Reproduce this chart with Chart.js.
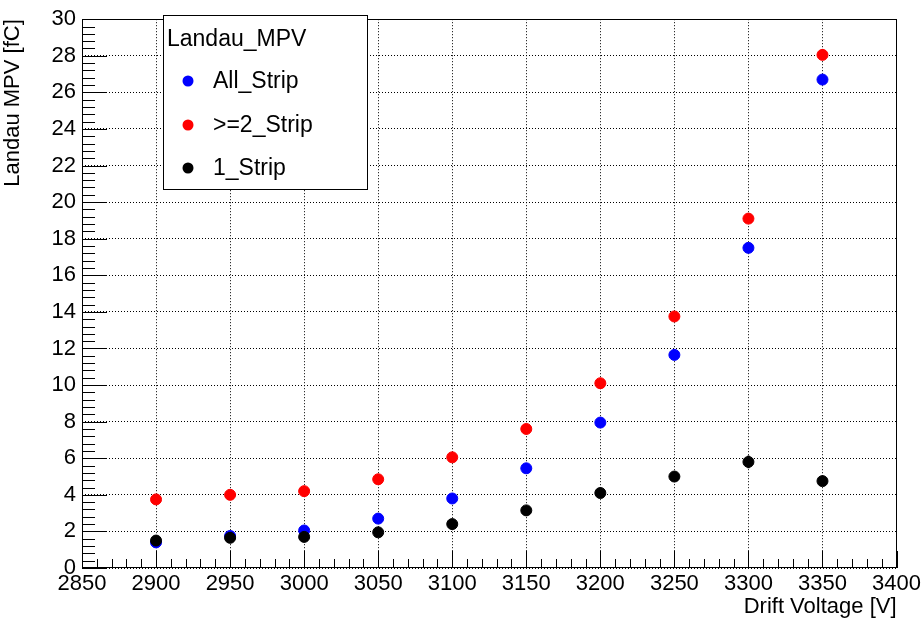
<!DOCTYPE html>
<html>
<head>
<meta charset="utf-8">
<script src="https://cdn.jsdelivr.net/npm/chart.js@4.4.0/dist/chart.umd.min.js"></script>
<style>
body{margin:0;background:#fff;}
#wrap{width:924px;height:620px;}
</style>
</head>
<body>
<div id="wrap"><canvas id="myChart" width="924" height="620"></canvas></div>
<script>
// drift voltage points [V]
var voltage = [2900, 2950, 3000, 3050, 3100, 3150, 3200, 3250, 3300, 3350];
// Landau MPV [fC]
var allStrip = [1.4, 1.75, 2.05, 2.7, 3.8, 5.45, 7.95, 11.65, 17.5, 26.7];
var multiStrip = [3.75, 4.0, 4.2, 4.85, 6.05, 7.6, 10.1, 13.75, 19.1, 28.05];
var oneStrip = [1.5, 1.65, 1.7, 1.95, 2.4, 3.15, 4.1, 5.0, 5.8, 4.75];
var oneStripErr = [0.1, 0.1, 0.1, 0.1, 0.1, 0.1, 0.1, 0.15, 0.35, 0.1];

var seriesNames = ['All_Strip', '>=2_Strip', '1_Strip'];
var legendTitle = 'Landau_MPV';
var xTitle = 'Drift Voltage [V]';
var yTitle = 'Landau MPV [fC]';

var FONT = '"Liberation Sans", Arial, sans-serif';

function toPoints(vals){
  var pts = [];
  for(var i=0;i<voltage.length;i++){
    pts.push({x: voltage[i], y: vals[i]});
  }
  return pts;
}

// ROOT style frame with inward ticks
var framePlugin = {
  id: 'frame',
  afterDatasetsDraw: function(chart){
    var ctx = chart.ctx, a = chart.chartArea;
    var xs = chart.scales.x, ys = chart.scales.y;
    ctx.save();
    ctx.strokeStyle = '#000';
    ctx.lineWidth = 1;
    ctx.beginPath();
    for(var i=0;i<=55;i++){
      var px = Math.round(xs.getPixelForValue(2850 + i*10)) + 0.5;
      var len = (i%5===0) ? 17 : 9;
      ctx.moveTo(px, a.bottom);
      ctx.lineTo(px, a.bottom - len);
    }
    for(var j=0;j<=75;j++){
      var py = Math.round(ys.getPixelForValue(j*0.4)) + 0.5;
      var len2 = (j%5===0) ? 25 : 13;
      ctx.moveTo(a.left, py);
      ctx.lineTo(a.left + len2, py);
    }
    ctx.stroke();
    ctx.strokeRect(Math.round(a.left)+0.5, Math.round(a.top)+0.5, Math.round(a.width)-1, Math.round(a.height)-1);

    // error bars for 1_Strip
    ctx.beginPath();
    for(var k=0;k<voltage.length;k++){
      var ex = Math.round(xs.getPixelForValue(voltage[k])) + 0.5;
      ctx.moveTo(ex, ys.getPixelForValue(oneStrip[k] - oneStripErr[k]));
      ctx.lineTo(ex, ys.getPixelForValue(oneStrip[k] + oneStripErr[k]));
    }
    ctx.lineWidth = 2;
    ctx.stroke();
    ctx.restore();
  },
  afterDraw: function(chart){
    var ctx = chart.ctx;
    var ds = chart.data.datasets;
    ctx.save();
    ctx.fillStyle = '#fff';
    ctx.fillRect(163, 15, 204, 174);
    ctx.strokeStyle = '#000';
    ctx.lineWidth = 1;
    ctx.strokeRect(163.5, 15.5, 204, 174);
    ctx.font = '23px ' + FONT;
    ctx.fillStyle = '#000';
    ctx.textBaseline = 'middle';
    ctx.fillText(legendTitle, 167, 40);
    var rows = [81, 125, 168];
    for(var i=0;i<seriesNames.length;i++){
      ctx.beginPath();
      ctx.fillStyle = ds[i].backgroundColor;
      ctx.arc(188, rows[i], 5.5, 0, Math.PI*2);
      ctx.fill();
      ctx.fillStyle = '#000';
      ctx.fillText(seriesNames[i], 213, rows[i] + 1);
    }
    ctx.restore();
  }
};

var ctx = document.getElementById('myChart').getContext('2d');
var myChart = new Chart(ctx, {
  type: 'scatter',
  data: {
    datasets: [
      {label: seriesNames[0], data: toPoints(allStrip), backgroundColor: '#0000ff', borderColor: '#0000ff', pointRadius: 5.5, order: 1},
      {label: seriesNames[1], data: toPoints(multiStrip), backgroundColor: '#ff0000', borderColor: '#ff0000', pointRadius: 5.5, order: 2},
      {label: seriesNames[2], data: toPoints(oneStrip), backgroundColor: '#000000', borderColor: '#000000', pointRadius: 5.5, order: 0}
    ]
  },
  options: {
    responsive: false,
    animation: false,
    layout: {padding: {left: 0, right: 24, top: 13, bottom: 0}},
    plugins: {
      legend: {display: false},
      tooltip: {enabled: false}
    },
    scales: {
      x: {
        type: 'linear',
        min: 2850,
        max: 3400,
        afterFit: function(s){ s.height = 52; },
        ticks: {stepSize: 50, autoSkip: false, maxRotation: 0, padding: 3, color: '#000', font: {family: FONT, size: 22},
          callback: function(v){ return String(v); }},
        grid: {color: '#000', lineWidth: 1, drawTicks: false},
        border: {display: false, dash: [1, 2]},
        title: {display: true, text: xTitle, align: 'end', color: '#000', font: {family: FONT, size: 22}, padding: {top: 0, bottom: 0}}
      },
      y: {
        min: 0,
        max: 30,
        afterFit: function(s){ s.width = 82; },
        ticks: {stepSize: 2, autoSkip: false, padding: 6, color: '#000', font: {family: FONT, size: 22}},
        grid: {color: '#000', lineWidth: 1, drawTicks: false},
        border: {display: false, dash: [1, 2]},
        title: {display: true, text: yTitle, align: 'end', color: '#000', font: {family: FONT, size: 22}, padding: {top: 0, bottom: 0}}
      }
    }
  },
  plugins: [framePlugin]
});
</script>
</body>
</html>
